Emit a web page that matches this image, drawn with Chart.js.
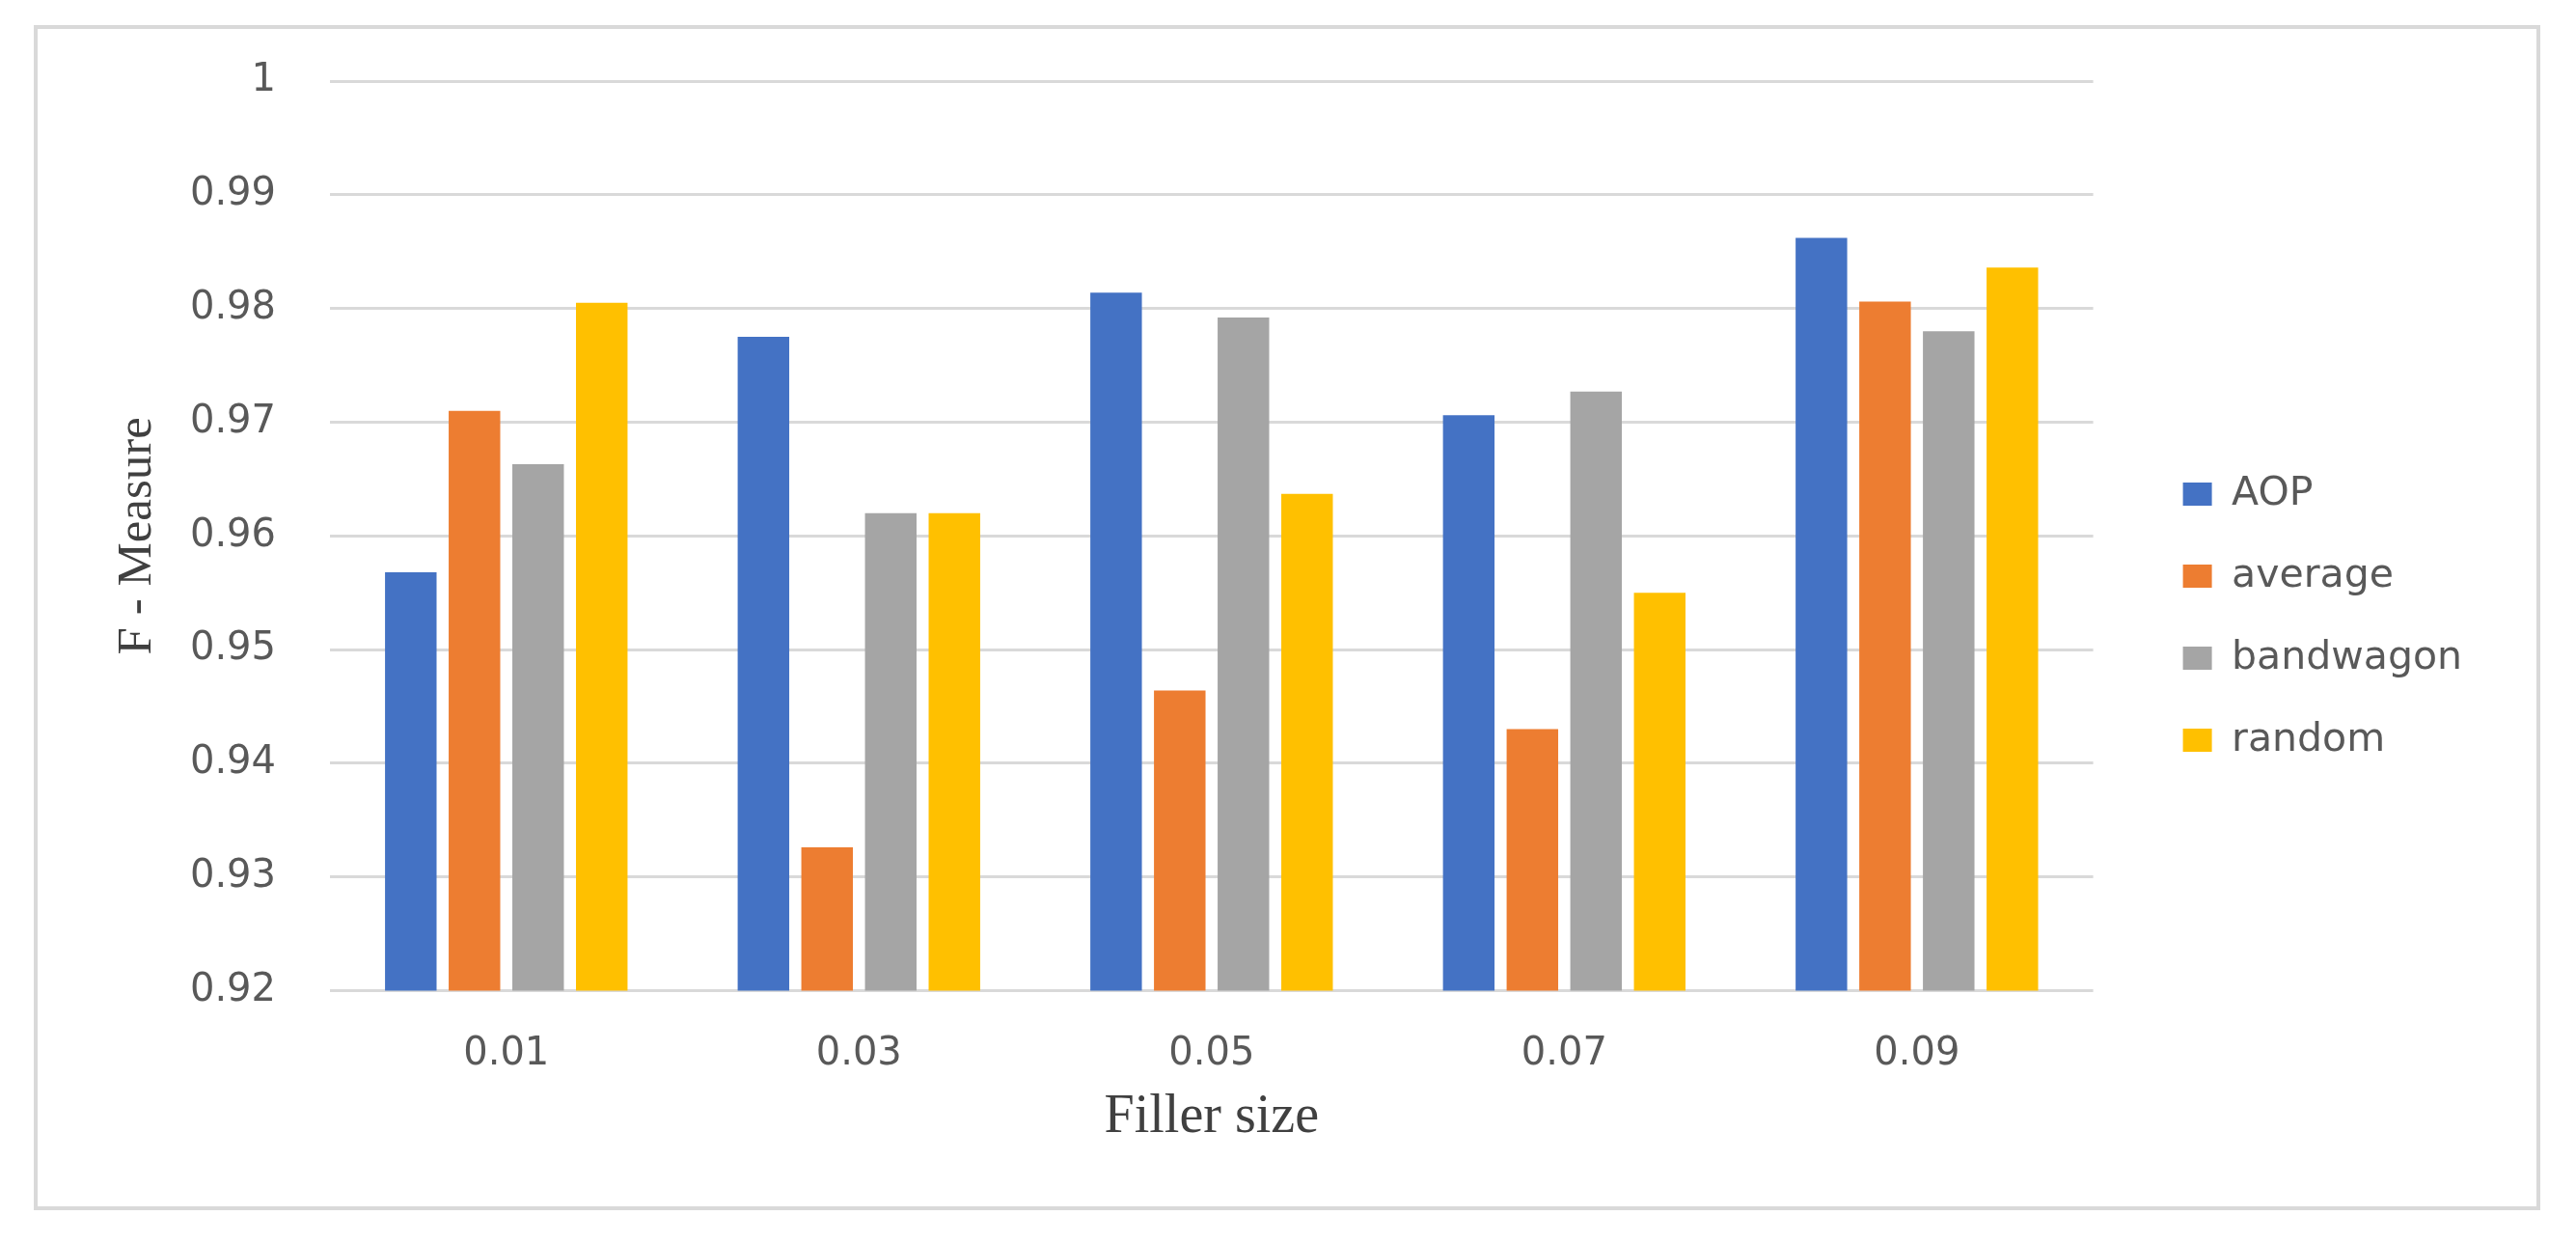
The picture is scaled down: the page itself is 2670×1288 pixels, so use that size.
<!DOCTYPE html>
<html><head><meta charset="utf-8">
<script src="https://cdn.jsdelivr.net/npm/chart.js@4.4.1/dist/chart.umd.min.js"></script>
<style>html,body{margin:0;padding:0;background:#fff;overflow:hidden}#c{display:block}</style>
</head><body>
<canvas id="c" width="2670" height="1288" style="width:2670px;height:1288px"></canvas>
<script>
const categories = ['0.01', '0.03', '0.05', '0.07', '0.09'];
const seriesNames = ['AOP', 'average', 'bandwagon', 'random'];
const aopValues = [0.9568, 0.9775, 0.9814, 0.9706, 0.9862];
const averageValues = [0.9710, 0.9326, 0.9464, 0.9430, 0.9806];
const bandwagonValues = [0.9663, 0.9620, 0.9792, 0.9727, 0.9780];
const randomValues = [0.9805, 0.9620, 0.9637, 0.9550, 0.9836];
const yTickValues = [0.92, 0.93, 0.94, 0.95, 0.96, 0.97, 0.98, 0.99, 1];
const yTickLabels = ['0.92', '0.93', '0.94', '0.95', '0.96', '0.97', '0.98', '0.99', '1'];
const xTitle = 'Filler size';
const yTitle = 'F - Measure';

const colors = ['#4472C4', '#ED7D31', '#A5A5A5', '#FFC000'];
const allValues = [aopValues, averageValues, bandwagonValues, randomValues];

const frame = {
  id: 'frame',
  beforeDraw(chart) {
    const ctx = chart.ctx;
    ctx.save();
    ctx.fillStyle = '#ffffff';
    ctx.fillRect(0, 0, chart.width, chart.height);
    ctx.strokeStyle = '#d9d9d9';
    ctx.lineWidth = 4;
    ctx.strokeRect(37, 28, 2594, 1224);
    ctx.restore();
  }
};

new Chart(document.getElementById('c'), {
  type: 'bar',
  data: {
    labels: categories,
    datasets: seriesNames.map((name, i) => ({
      label: name,
      data: allValues[i],
      backgroundColor: colors[i],
      borderWidth: 0,
      categoryPercentage: 0.722,
      barPercentage: 0.81
    }))
  },
  options: {
    responsive: false,
    devicePixelRatio: 1,
    animation: false,
    layout: { padding: { left: 40, right: 108, top: 84, bottom: 93 } },
    plugins: {
      tooltip: { enabled: false },
      legend: {
        position: 'right',
        labels: {
          boxWidth: 30,
          boxHeight: 24,
          padding: 44,
          color: '#595959',
          font: { family: 'DejaVu Sans', size: 41 }
        }
      }
    },
    scales: {
      x: {
        grid: { display: false },
        border: { display: false },
        ticks: { color: '#595959', padding: 34, font: { family: 'DejaVu Sans', size: 40 } },
        title: {
          display: true, text: xTitle, color: '#404040',
          font: { family: 'Liberation Serif', size: 56 },
          padding: { top: 0, bottom: 3 }
        },
        afterFit(s) { s.height = 168.5; }
      },
      y: {
        min: 0.92, max: 1,
        grid: { color: '#d9d9d9', lineWidth: 3, drawTicks: false },
        border: { display: false },
        afterBuildTicks(s) { s.ticks = yTickValues.map(v => ({ value: v })); },
        ticks: {
          color: '#595959', padding: 56,
          font: { family: 'DejaVu Sans', size: 40 },
          callback: (v, i) => yTickLabels[i]
        },
        title: {
          display: true, text: yTitle, color: '#404040',
          font: { family: 'Liberation Serif', size: 51 },
          padding: { top: 72, bottom: 0 }
        },
        afterFit(s) { s.width = 302; }
      },
      spacer: {
        type: 'linear', position: 'right', display: true,
        grid: { display: false }, border: { display: false },
        ticks: { display: false },
        afterFit(s) { s.width = 49; }
      }
    }
  },
  plugins: [frame]
});
</script>
</body></html>
